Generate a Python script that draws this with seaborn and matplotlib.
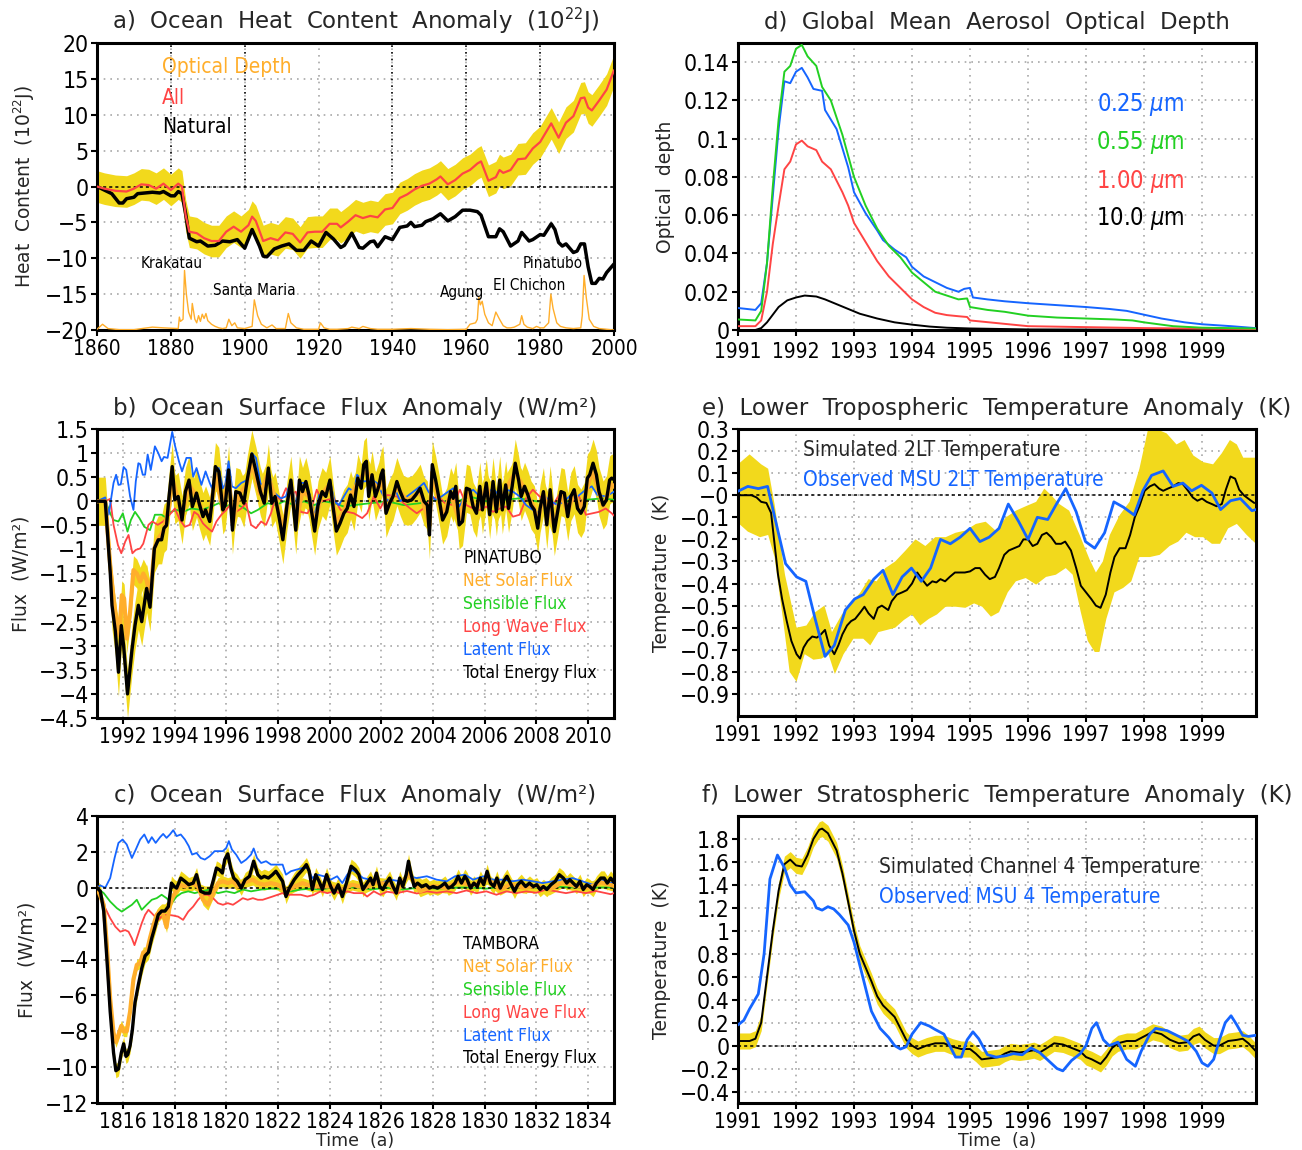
import os
import numpy as np
import seaborn as sns
import matplotlib.pyplot as plt
from matplotlib import font_manager
from matplotlib.ticker import FuncFormatter

# ==========================================
# DATOS
# ==========================================

# --- a) Ocean heat content anomaly (1e22 J) ---
a_all_x = [1860, 1862, 1865, 1868, 1870, 1872, 1874, 1876, 1878, 1880, 1882, 1883, 1884, 1885,
           1887, 1889, 1891, 1893, 1895, 1897, 1899, 1901, 1902, 1903, 1905, 1907, 1909, 1911,
           1913, 1915, 1917, 1919, 1921, 1923, 1925, 1926, 1928, 1930, 1932, 1934, 1936, 1938,
           1940, 1942, 1944, 1946, 1948, 1950, 1952, 1953, 1955, 1957, 1959, 1961, 1963, 1964,
           1966, 1968, 1969, 1970, 1972, 1974, 1976, 1978, 1980, 1983, 1985, 1987, 1989, 1991,
           1992, 1993, 1994, 1996, 1998, 2000]
a_all_y = [0, -0.3, -0.6, -0.7, -0.3, 0.3, 0.2, -0.3, 0.4, -0.5, 0.4, 0.0, -4.0, -6.3,
           -6.5, -7.2, -7.6, -7.6, -6.3, -5.6, -6.3, -5.4, -4.2, -4.8, -7.6, -7.2, -7.5, -6.4,
           -6.6, -7.8, -6.4, -6.3, -6.3, -5.2, -5.2, -5.7, -4.9, -4.0, -4.4, -4.1, -4.3, -3.2,
           -3.0, -1.6, -1.1, -0.4, 0.1, 0.4, 1.0, 1.4, 0.3, 0.9, 1.8, 2.3, 3.2, 3.5,
           0.8, 1.3, 2.3, 1.9, 2.3, 3.8, 3.9, 5.3, 6.2, 8.8, 6.8, 8.9, 9.8, 12.3,
           12.4, 11.0, 10.6, 12.0, 13.5, 16.2]
a_all_spread = 2.2

a_nat_x = [1860, 1862, 1864, 1866, 1867, 1868, 1870, 1871, 1873, 1875, 1877, 1878, 1880, 1881,
           1882, 1883, 1884, 1885, 1887, 1888, 1890, 1892, 1894, 1896, 1898, 1900, 1902, 1904,
           1905, 1906, 1908, 1910, 1912, 1914, 1916, 1918, 1920, 1922, 1924, 1926, 1927, 1929,
           1931, 1932, 1934, 1935, 1936, 1938, 1940, 1942, 1944, 1945, 1946, 1948, 1949, 1951,
           1953, 1955, 1957, 1959, 1961, 1963, 1964, 1966, 1968, 1969, 1970, 1972, 1974, 1975,
           1977, 1978, 1980, 1981, 1983, 1984, 1985, 1986, 1987, 1989, 1990, 1991, 1992, 1993,
           1994, 1995, 1996, 1997, 1998, 2000]
a_nat_y = [0, -0.5, -1.0, -2.3, -2.3, -1.7, -1.5, -1.0, -0.9, -0.8, -0.9, -0.7, -1.3, -1.3,
           -0.7, -1.0, -3.8, -7.2, -7.7, -7.6, -8.3, -8.2, -7.6, -7.7, -7.4, -8.6, -6.0, -8.3,
           -9.7, -9.8, -8.7, -8.3, -8.0, -8.9, -8.9, -7.6, -8.3, -6.4, -7.3, -8.5, -8.2, -6.5,
           -8.5, -8.6, -7.7, -7.6, -8.4, -7.0, -7.4, -5.7, -5.5, -5.0, -5.6, -5.4, -4.9, -4.5,
           -3.8, -4.8, -4.2, -3.3, -3.3, -3.5, -4.0, -7.0, -7.0, -5.9, -6.3, -8.3, -7.6, -6.4,
           -7.6, -7.4, -6.7, -6.8, -5.2, -6.0, -7.8, -8.3, -8.0, -9.2, -9.0, -8.0, -8.0, -11.2,
           -13.5, -13.5, -12.8, -12.9, -12.0, -10.8]

# optical depth drawn on the heat-content axis, height above the -20 baseline
a_aod_x = [1860, 1861.5, 1863, 1866, 1870, 1875, 1878, 1882, 1882.3, 1882.6, 1883.3, 1883.7,
           1884.2, 1884.8, 1885.5, 1885.8, 1886.5, 1887, 1887.5, 1888, 1888.5, 1889, 1889.5,
           1890, 1891, 1892, 1893, 1894, 1895, 1895.7, 1896.5, 1897.3, 1898, 1900, 1902,
           1902.6, 1903.5, 1904.5, 1906, 1907.4, 1908.5, 1911, 1911.8, 1912.5, 1914, 1916,
           1918, 1920, 1920.5, 1921.5, 1923, 1925, 1928, 1929, 1931, 1932, 1934, 1936, 1940,
           1945, 1950, 1955, 1960, 1961, 1962.5, 1963, 1963.4, 1963.8, 1964.3, 1965, 1966,
           1967, 1968, 1969, 1970, 1971, 1972, 1973, 1974.5, 1975, 1975.6, 1976.5, 1978, 1979,
           1980, 1981, 1982.3, 1982.9, 1983.5, 1984.5, 1985.5, 1987, 1989, 1991, 1991.4,
           1991.9, 1992.5, 1993.3, 1994.5, 1996, 1998, 2000]
a_aod_h = [0.1, 0.8, 0.2, 0.05, 0.05, 0.4, 0.3, 0.2, 1.8, 1.2, 1.5, 8.3,
           5.0, 2.5, 1.5, 3.7, 1.5, 1.0, 2.0, 1.2, 2.2, 1.6, 2.3,
           1.3, 0.8, 0.5, 0.3, 0.2, 0.3, 1.5, 0.6, 1.0, 0.3, 0.2, 0.5,
           4.2, 2.0, 0.8, 0.3, 0.7, 0.2, 0.2, 2.3, 1.0, 0.3, 0.1,
           0.1, 0.1, 1.0, 0.3, 0.1, 0.1, 0.2, 0.4, 0.2, 0.5, 0.2, 0.1, 0.1,
           0.2, 0.1, 0.05, 0.1, 0.8, 1.0, 1.5, 4.6, 3.5, 4.0, 2.2, 1.0,
           0.6, 2.5, 1.5, 0.6, 0.3, 0.3, 0.4, 0.8, 2.0, 0.8, 0.4, 0.2, 0.5,
           0.3, 0.3, 1.0, 5.0, 3.0, 1.0, 0.5, 0.3, 0.2, 0.3, 2.0,
           7.6, 4.5, 1.5, 0.5, 0.2, 0.1, 0.0]

a_volc_names = ['Krakatau', 'Santa Maria', 'Agung', 'El Chichon', 'Pinatubo']
a_volc_x = [1880.3, 1902.5, 1958.8, 1977.0, 1983.5]
a_volc_y = [-10.7, -14.5, -14.8, -13.8, -10.7]

# --- d) Global mean aerosol optical depth ---
d_025_x = [1991.0, 1991.3, 1991.4, 1991.5, 1991.6, 1991.7, 1991.8, 1991.9, 1992.0, 1992.1,
           1992.2, 1992.3, 1992.45, 1992.5, 1992.7, 1992.9, 1993.0, 1993.2, 1993.4, 1993.5,
           1993.7, 1993.9, 1994.0, 1994.2, 1994.4, 1994.6, 1994.8, 1994.9, 1995.0, 1995.05,
           1995.3, 1995.6, 1996.0, 1996.5, 1997.0, 1997.4, 1997.7, 1998.0, 1998.3, 1998.7,
           1999.0, 1999.5, 1999.92]
d_025_y = [0.0115, 0.0105, 0.014, 0.035, 0.07, 0.105, 0.13, 0.129, 0.135, 0.137,
           0.132, 0.126, 0.125, 0.115, 0.105, 0.085, 0.072, 0.061, 0.052, 0.047,
           0.042, 0.038, 0.033, 0.028, 0.025, 0.022, 0.020, 0.0215, 0.022, 0.017,
           0.016, 0.015, 0.014, 0.013, 0.012, 0.011, 0.010, 0.008, 0.006, 0.004,
           0.003, 0.002, 0.001]
d_055_x = [1991.0, 1991.3, 1991.4, 1991.5, 1991.6, 1991.7, 1991.8, 1991.9, 1992.0, 1992.1,
           1992.2, 1992.35, 1992.45, 1992.6, 1992.8, 1993.0, 1993.2, 1993.4, 1993.6, 1993.8,
           1994.0, 1994.2, 1994.4, 1994.6, 1994.8, 1994.95, 1995.0, 1995.3, 1995.6, 1996.0,
           1996.5, 1997.0, 1997.5, 1997.8, 1998.0, 1998.5, 1999.0, 1999.92]
d_055_y = [0.0055, 0.005, 0.01, 0.035, 0.075, 0.11, 0.135, 0.138, 0.147, 0.149,
           0.143, 0.138, 0.127, 0.12, 0.102, 0.08, 0.065, 0.053, 0.044, 0.038,
           0.03, 0.025, 0.02, 0.018, 0.016, 0.0165, 0.012, 0.0105, 0.0095, 0.0075,
           0.0065, 0.006, 0.0055, 0.005, 0.004, 0.002, 0.0012, 0.0008]
d_100_x = [1991.0, 1991.3, 1991.4, 1991.5, 1991.6, 1991.7, 1991.8, 1991.9, 1992.0, 1992.1,
           1992.2, 1992.35, 1992.45, 1992.6, 1992.8, 1992.9, 1993.0, 1993.2, 1993.4, 1993.6,
           1993.8, 1994.0, 1994.2, 1994.4, 1994.6, 1994.8, 1994.95, 1995.0, 1995.5, 1996.0,
           1997.0, 1998.0, 1999.92]
d_100_y = [0.002, 0.002, 0.005, 0.02, 0.045, 0.065, 0.084, 0.088, 0.097, 0.099,
           0.096, 0.094, 0.088, 0.084, 0.072, 0.065, 0.056, 0.046, 0.036, 0.028,
           0.022, 0.016, 0.012, 0.009, 0.0078, 0.0072, 0.0068, 0.005, 0.0035, 0.002,
           0.0015, 0.001, 0.0005]
d_10_x = [1991.0, 1991.3, 1991.4, 1991.5, 1991.6, 1991.7, 1991.85, 1992.0, 1992.15, 1992.35,
          1992.5, 1992.7, 1992.9, 1993.1, 1993.4, 1993.7, 1994.0, 1994.3, 1994.6, 1995.0,
          1996.0, 1999.92]
d_10_y = [0.0, 0.0, 0.001, 0.004, 0.008, 0.012, 0.0155, 0.017, 0.018, 0.0175,
          0.016, 0.0135, 0.011, 0.0085, 0.006, 0.004, 0.0028, 0.0018, 0.0012, 0.0008,
          0.0003, 0.0]
d_labels = ['0.25 $\\mu$m', '0.55 $\\mu$m', '1.00 $\\mu$m', '10.0 $\\mu$m']

# --- b) Ocean surface flux anomaly, Pinatubo (W/m2) ---
b_tot_x = [1991.0, 1991.32, 1991.51, 1991.58, 1991.71, 1991.83, 1991.94, 1992.03, 1992.18, 1992.35,
           1992.47, 1992.60, 1992.73, 1992.92, 1993.05, 1993.22, 1993.37, 1993.50, 1993.59, 1993.69,
           1993.78, 1993.91, 1994.01, 1994.14, 1994.29, 1994.42, 1994.56, 1994.69, 1994.85, 1994.97,
           1995.10, 1995.20, 1995.36, 1995.45, 1995.58, 1995.71, 1995.87, 1995.96, 1996.09, 1996.24,
           1996.37, 1996.53, 1996.68, 1996.81, 1996.99, 1997.15, 1997.32, 1997.47, 1997.63, 1997.76,
           1997.89, 1998.05, 1998.19, 1998.35, 1998.50, 1998.69, 1998.83, 1998.95, 1999.08, 1999.20,
           1999.42, 1999.55, 1999.71, 1999.85, 2000.01, 2000.14, 2000.26, 2000.40, 2000.55, 2000.68,
           2000.81, 2000.94, 2001.09, 2001.22, 2001.32, 2001.42, 2001.51, 2001.64, 2001.77, 2001.90,
           2001.99, 2002.06, 2002.18, 2002.32, 2002.45, 2002.60, 2002.73, 2002.86, 2003.01, 2003.18,
           2003.33, 2003.50, 2003.65, 2003.78, 2003.86, 2003.97, 2004.10, 2004.24, 2004.37, 2004.53,
           2004.68, 2004.78, 2004.88, 2005.01, 2005.14, 2005.29, 2005.42, 2005.55, 2005.68, 2005.81,
           2005.91, 2006.06, 2006.19, 2006.32, 2006.45, 2006.58, 2006.68, 2006.81, 2006.92, 2007.06,
           2007.18, 2007.31, 2007.41, 2007.54, 2007.67, 2007.79, 2007.92, 2008.05, 2008.14, 2008.27,
           2008.40, 2008.53, 2008.69, 2008.82, 2008.95, 2009.08, 2009.21, 2009.33, 2009.46, 2009.59,
           2009.72, 2009.85, 2009.97, 2010.06, 2010.19, 2010.32, 2010.42, 2010.58, 2010.71, 2010.83,
           2010.91, 2011.0]
b_tot_y = [0, 0, -1.46, -2.16, -2.7, -3.55, -2.58, -3.0, -4.0, -3.1,
           -2.58, -2.16, -2.5, -1.81, -2.2, -0.98, -0.8, -0.8, -0.56, -0.5,
           0.06, 0.72, 0.03, 0.1, -0.39, 0.2, 0.44, -0.11, 0.17, -0.08,
           -0.32, -0.18, -0.42, 0, 0.72, 0.62, -0.18, -0.08, 0.65, -0.6,
           0.2, 0.17, -0.04, 0.44, 0.98, 0.62, 0.2, -0.04, 0.69, -0.04,
           0.1, -0.35, -0.8, -0.08, 0.44, -0.6, 0.44, 0.2, 0.41, 0.13,
           -0.62, -0.08, 0.2, 0.1, 0.44, -0.15, -0.62, -0.46, -0.25, -0.15,
           0.13, -0.11, 0.48, 0.27, 0.76, 0.83, 0.1, 0.55, 0.1, 0.31,
           0.55, 0.65, -0.25, -0.04, 0.1, 0.41, 0.2, 0.03, 0, 0.03,
           0.13, 0.27, 0, -0.08, -0.7, 0.76, 0.44, 0.03, -0.39, -0.22,
           0.2, 0.06, 0.31, -0.49, -0.42, 0.27, 0.24, -0.11, -0.25, 0.31,
           -0.18, 0.38, -0.28, 0.41, -0.22, 0.44, -0.18, 0.34, -0.15, 0.31,
           0.79, 0.44, 0.1, 0.31, 0.13, -0.08, -0.18, -0.56, -0.15, 0.2,
           -0.49, 0.24, -0.63, -0.22, 0.2, 0.17, -0.32, 0.1, 0.24, -0.15,
           -0.25, -0.11, 0.48, 0.55, 0.79, 0.55, 0.2, -0.08, 0.03, 0.44,
           0.48, 0.45]
b_sol_x = [1991.0, 1991.32, 1991.51, 1991.64, 1991.77, 1991.86, 1991.96, 1992.05, 1992.15, 1992.28,
           1992.41, 1992.54, 1992.67, 1992.79, 1992.92, 1993.05, 1993.22, 1993.37, 1993.56, 1993.78,
           1993.91, 1994.1, 1994.3, 1994.55, 1994.85, 1995.1, 1995.35, 1995.6, 1995.85, 1996.1,
           1996.25, 1996.5, 1996.8, 1997.0, 1997.3, 1997.6, 1997.9, 1998.2, 1998.5, 1998.7,
           1998.95, 1999.2, 1999.42, 1999.7, 2000.0, 2000.26, 2000.55, 2000.8, 2001.1, 2001.42,
           2001.64, 2001.9, 2002.06, 2002.18, 2002.6, 2003.0, 2003.5, 2003.86, 2003.97, 2004.37,
           2004.68, 2005.01, 2005.29, 2005.68, 2006.06, 2006.45, 2006.81, 2007.18, 2007.54, 2007.92,
           2008.05, 2008.27, 2008.69, 2008.95, 2009.21, 2009.46, 2009.72, 2010.06, 2010.19, 2010.58,
           2010.91, 2011.0]
b_sol_y = [0, 0, -1.33, -2.02, -2.58, -2.78, -1.95, -2.02, -2.85, -2.3,
           -1.43, -1.5, -1.67, -1.5, -1.64, -2.02, -0.98, -0.77, -0.63, -0.15,
           0.48, 0.1, -0.3, 0.35, 0.1, -0.25, -0.3, 0.55, -0.1, 0.5,
           -0.45, 0.15, 0.35, 0.8, 0.15, 0.55, 0.05, -0.6, 0.35, -0.45,
           0.2, 0.1, -0.45, 0.15, 0.35, -0.45, -0.2, 0.1, 0.4, 0.65,
           0.4, 0.25, 0.5, -0.2, 0.3, 0.0, 0.2, -0.5, 0.6, -0.3,
           0.15, -0.4, 0.2, -0.2, 0.3, -0.15, 0.25, 0.6, 0.25, -0.15,
           -0.45, 0.15, -0.5, 0.15, -0.25, 0.2, -0.2, 0.45, 0.6, -0.1,
           0.35, 0.3]
b_lat_x = [1991.0, 1991.32, 1991.45, 1991.64, 1991.74, 1991.83, 1991.92, 1992.03, 1992.13, 1992.28,
           1992.41, 1992.50, 1992.60, 1992.67, 1992.77, 1992.86, 1992.96, 1993.08, 1993.24, 1993.37,
           1993.50, 1993.59, 1993.73, 1993.91, 1994.01, 1994.17, 1994.29, 1994.46, 1994.63, 1994.72,
           1994.85, 1995.04, 1995.20, 1995.36, 1995.45, 1995.59, 1995.71, 1995.87, 1995.96, 1996.09,
           1996.22, 1996.37, 1996.58, 1996.81, 1996.99, 1997.15, 1997.32, 1997.47, 1997.63, 1997.80,
           1997.96, 1998.12, 1998.31, 1998.50, 1998.69, 1998.88, 1999.08, 1999.27, 1999.42, 1999.59,
           1999.78, 2000.01, 2000.19, 2000.36, 2000.55, 2000.74, 2000.94, 2001.06, 2001.32, 2001.64,
           2001.83, 2002.06, 2002.28, 2002.54, 2002.73, 2002.99, 2003.24, 2003.50, 2003.65, 2003.82,
           2004.08, 2004.33, 2004.59, 2004.78, 2005.01, 2005.29, 2005.55, 2005.81, 2006.06, 2006.32,
           2006.58, 2006.83, 2007.09, 2007.35, 2007.60, 2007.86, 2008.05, 2008.31, 2008.56, 2008.82,
           2009.08, 2009.33, 2009.59, 2009.91, 2010.14, 2010.36, 2010.68, 2010.91, 2011.0]
b_lat_y = [0, 0.08, -0.28, 0.38, 0.55, 0.34, 0.35, 0.71, 0.65, 0.1,
           -0.18, 0.41, 0.79, 0.77, 0.55, 0.55, 0.97, 0.65, 1.14, 1.0,
           0.83, 0.92, 0.9, 1.44, 1.17, 0.83, 0.62, 0.9, 0.9, 0.51,
           0.69, 0.34, 0.62, 0.38, 0.27, 0.62, 0.69, 0.27, 0.34, 0.83,
           0.31, 0.27, 0.38, 0.44, 1.0, 0.9, 0.38, 0.24, 0.69, 0.2,
           0.13, 0.06, 0.1, 0.44, -0.08, 0.38, 0.38, 0.06, -0.32, 0.13,
           0.13, 0.44, 0, -0.08, 0.1, 0.27, 0.2, 0.55, 0.41, 0.44,
           0.38, 0.13, 0, 0.24, 0, 0.1, 0.2, 0.31, 0.38, 0.2,
           0.03, 0.1, 0.2, 0.27, -0.11, 0.13, 0.24, 0.1, 0.13, 0.27,
           0.1, 0.24, 0.2, 0.1, -0.08, -0.18, -0.25, 0.1, 0, -0.08,
           0, 0.13, 0.1, 0.24, 0.31, 0.13, 0.1, 0.17, 0.2]
b_sen_x = [1991.0, 1991.32, 1991.51, 1991.64, 1991.83, 1992.0, 1992.18, 1992.31, 1992.47, 1992.64,
           1992.83, 1993.05, 1993.24, 1993.50, 1993.69, 1993.86, 1994.08, 1994.33, 1994.65, 1995.04,
           1995.42, 1995.71, 1995.96, 1996.32, 1996.71, 1996.96, 1997.22, 1997.60, 1997.92, 1998.24,
           1998.63, 1999.01, 1999.40, 1999.78, 2000.17, 2000.55, 2000.94, 2001.58, 2002.22, 2002.86,
           2003.50, 2004.14, 2004.78, 2005.42, 2006.06, 2006.71, 2007.35, 2007.99, 2008.63, 2009.27,
           2009.91, 2010.55, 2011.0]
b_sen_y = [0, 0.02, -0.25, -0.39, -0.42, -0.25, -0.63, -0.39, -0.22, -0.35,
           -0.53, -0.6, -0.28, -0.28, -0.35, -0.22, -0.18, -0.22, -0.15, -0.18,
           -0.11, -0.04, -0.11, -0.04, -0.15, -0.25, -0.18, -0.04, -0.08, 0,
           -0.08, 0, -0.08, 0, -0.04, -0.11, -0.08, -0.04, 0, -0.08,
           -0.04, 0.03, -0.04, 0.1, 0, 0.03, 0.06, 0, -0.04, 0,
           0.03, 0.06, 0.03]
b_lw_x = [1991.0, 1991.32, 1991.51, 1991.64, 1991.81, 1991.94, 1992.09, 1992.22, 1992.37, 1992.50,
          1992.67, 1992.79, 1992.99, 1993.14, 1993.35, 1993.56, 1993.73, 1993.91, 1994.01, 1994.21,
          1994.40, 1994.59, 1994.76, 1994.91, 1995.10, 1995.29, 1995.45, 1995.62, 1995.81, 1996.0,
          1996.19, 1996.38, 1996.58, 1996.77, 1996.96, 1997.15, 1997.35, 1997.54, 1997.73, 1997.92,
          1998.12, 1998.31, 1998.50, 1998.69, 1998.88, 1999.14, 1999.33, 1999.50, 1999.72, 1999.91,
          2000.17, 2000.42, 2000.68, 2000.94, 2001.26, 2001.45, 2001.71, 2001.96, 2002.22, 2002.60,
          2002.86, 2003.12, 2003.37, 2003.63, 2003.88, 2004.21, 2004.46, 2004.78, 2005.04, 2005.29,
          2005.55, 2005.81, 2006.06, 2006.32, 2006.58, 2006.83, 2007.09, 2007.35, 2007.60, 2007.86,
          2008.12, 2008.37, 2008.63, 2008.88, 2009.14, 2009.40, 2009.65, 2009.91, 2010.17, 2010.42,
          2010.68, 2010.91, 2011.0]
b_lw_y = [0, 0, 0.05, -0.49, -0.91, -1.08, -0.84, -0.7, -1.08, -1.01,
          -0.98, -0.88, -0.49, -0.42, -0.49, -0.42, -0.32, -0.22, -0.15, -0.39,
          -0.53, -0.49, -0.22, -0.28, -0.46, -0.56, -0.63, -0.42, -0.28, -0.18,
          -0.04, -0.22, -0.15, -0.04, -0.49, -0.56, -0.42, -0.49, -0.25, 0.1,
          0.03, 0.27, 0.13, 0.2, -0.22, -0.25, -0.08, 0.24, 0, 0.03,
          0.06, -0.18, -0.22, -0.25, -0.35, -0.25, 0.1, -0.15, 0.13, 0.1,
          -0.04, -0.15, -0.25, -0.15, 0.03, 0.1, -0.04, -0.08, 0.24, -0.08,
          -0.15, -0.18, -0.11, -0.22, -0.15, -0.11, -0.32, -0.28, 0.06, 0.24,
          0.1, 0.03, -0.08, 0.13, -0.08, 0, 0.1, -0.28, -0.25, -0.22,
          -0.15, -0.25, -0.3]
b_spread = 0.5

# --- c) Ocean surface flux anomaly, Tambora (W/m2) ---
c_tot_x = [1815.0, 1815.13, 1815.26, 1815.38, 1815.51, 1815.64, 1815.73, 1815.83, 1815.94, 1816.03,
           1816.12, 1816.19, 1816.28, 1816.37, 1816.47, 1816.60, 1816.73, 1816.86, 1816.99, 1817.12,
           1817.24, 1817.37, 1817.50, 1817.63, 1817.76, 1817.88, 1817.99, 1818.08, 1818.24, 1818.40,
           1818.55, 1818.72, 1818.85, 1819.01, 1819.17, 1819.36, 1819.49, 1819.62, 1819.74, 1819.85,
           1819.94, 1820.06, 1820.17, 1820.29, 1820.42, 1820.58, 1820.73, 1820.90, 1821.06, 1821.22,
           1821.35, 1821.47, 1821.63, 1821.79, 1821.92, 1822.05, 1822.18, 1822.31, 1822.44, 1822.63,
           1822.78, 1822.95, 1823.10, 1823.21, 1823.33, 1823.46, 1823.59, 1823.72, 1823.88, 1824.04,
           1824.17, 1824.33, 1824.49, 1824.65, 1824.83, 1825.00, 1825.13, 1825.29, 1825.45, 1825.58,
           1825.68, 1825.81, 1825.94, 1826.06, 1826.19, 1826.32, 1826.45, 1826.58, 1826.71, 1826.83,
           1826.96, 1827.05, 1827.14, 1827.27, 1827.40, 1827.56, 1827.73, 1827.86, 1828.01, 1828.17,
           1828.29, 1828.46, 1828.59, 1828.72, 1828.85, 1828.97, 1829.10, 1829.23, 1829.32, 1829.45,
           1829.58, 1829.71, 1829.83, 1829.96, 1830.09, 1830.22, 1830.35, 1830.47, 1830.60, 1830.73,
           1830.86, 1830.99, 1831.15, 1831.28, 1831.41, 1831.58, 1831.73, 1831.88, 1832.01, 1832.14,
           1832.27, 1832.40, 1832.56, 1832.73, 1832.88, 1833.04, 1833.17, 1833.29, 1833.42, 1833.55,
           1833.68, 1833.81, 1833.94, 1834.06, 1834.19, 1834.32, 1834.49, 1834.62, 1834.74, 1834.87,
           1835.0]
c_tot_y = [0, -0.2, -1.3, -3.9, -6.9, -9.2, -10.2, -10.1, -9.2, -8.7,
           -9.4, -9.3, -8.8, -7.9, -6.4, -5.4, -4.5, -3.8, -3.6, -2.8,
           -2.2, -1.5, -1.3, -1.3, -1.05, 0.26, 0.07, -0.02, 0.54, 0.36,
           0.17, 0.26, 0.73, -0.2, -0.3, -0.3, 0.36, 1.1, 1.0, 0.82,
           1.57, 1.89, 1.1, 0.54, 0.36, -0.02, 0.45, 0.64, 1.48, 0.73,
           0.54, 0.64, 0.54, 0.73, 0.92, 0.64, 0.36, -0.49, -0.02, 0.45,
           0.73, 1.0, 1.29, 0.92, -0.1, 0.73, 0.36, -0.1, 0.73, 0.07,
           -0.3, 0.17, -0.49, 0.26, 1.2, 1.0, 0.73, -0.1, 0.26, 0.54,
           0.17, 0.82, 0.07, -0.1, 0.26, 0.54, 0.07, -0.3, 0.54, 0.07,
           0.73, 1.48, 0.82, 0.07, 0.26, 0.07, 0.17, -0.02, 0.07, -0.02,
           0.07, 0.26, -0.02, 0.07, 0.26, 0.64, 0.26, 0.64, 0.45, -0.02,
           0.26, 0.07, 0.54, 0.17, 0.92, 0.26, 0.07, 0.54, -0.02, 0.36,
           0.64, 0.26, -0.2, 0.17, 0.36, 0.07, 0.26, 0.07, 0.17, -0.1,
           0.07, -0.1, 0.17, 0.36, 0.73, 0.54, 0.26, 0.45, 0.26, 0.07,
           0.36, -0.1, 0.17, 0.07, -0.1, 0.26, 0.54, 0.54, 0.26, 0.54,
           0.3]
c_sol_x = [1815.0, 1815.26, 1815.38, 1815.51, 1815.64, 1815.73, 1815.83, 1815.94, 1816.03, 1816.15,
           1816.28, 1816.41, 1816.54, 1816.67, 1816.79, 1816.92, 1817.05, 1817.18, 1817.31, 1817.44,
           1817.56, 1817.69, 1817.82, 1817.91, 1818.01, 1818.21, 1818.40, 1818.65, 1818.91, 1819.10,
           1819.29, 1819.49, 1819.68, 1819.87, 1820.06, 1820.26, 1820.45, 1820.64, 1820.83, 1821.03,
           1821.22, 1821.47, 1821.73, 1821.99, 1822.31, 1822.63, 1822.95, 1823.33, 1823.72, 1824.10,
           1824.49, 1824.87, 1825.35, 1825.8, 1826.3, 1826.6, 1827.05, 1827.5, 1828.0, 1828.5,
           1829.0, 1829.5, 1830.1, 1830.6, 1831.0, 1831.5, 1832.0, 1832.5, 1833.0, 1833.5,
           1834.0, 1834.5, 1835.0]
c_sol_y = [0, -0.95, -3.2, -6.2, -8.1, -8.6, -8.2, -7.7, -8.0, -8.0,
           -6.9, -5.1, -4.3, -4.2, -3.6, -3.6, -2.8, -2.1, -1.5, -1.3,
           -1.5, -2.2, -0.95, -0.6, -0.3, 0.17, 0.07, 0.26, 0.07, -0.67,
           -0.95, -0.3, 0.26, 0.36, 0.26, 0.36, 0.07, 0.26, 0.36, 0.45,
           0.26, 0.17, 0.26, 0.17, -0.2, 0.07, 0.26, 0.07, 0.07, 0.07,
           -0.1, 0.17, 0.0, 0.3, 0.2, -0.2, 0.8, -0.2, 0.1, 0.0,
           0.35, 0.1, 0.5, -0.1, 0.2, 0.0, 0.1, -0.1, 0.3, 0.1,
           0.0, 0.3, 0.1]
c_lat_x = [1815.0, 1815.13, 1815.32, 1815.51, 1815.68, 1815.83, 1815.99, 1816.15, 1816.35, 1816.50,
           1816.67, 1816.83, 1816.99, 1817.12, 1817.27, 1817.44, 1817.56, 1817.69, 1817.82, 1817.95,
           1818.08, 1818.24, 1818.40, 1818.55, 1818.68, 1818.85, 1819.01, 1819.17, 1819.36, 1819.55,
           1819.74, 1819.87, 1820.00, 1820.10, 1820.22, 1820.38, 1820.58, 1820.77, 1820.96, 1821.06,
           1821.19, 1821.35, 1821.54, 1821.73, 1821.92, 1822.18, 1822.31, 1822.50, 1822.69, 1822.95,
           1823.14, 1823.33, 1823.53, 1823.78, 1824.04, 1824.29, 1824.49, 1824.68, 1824.87, 1825.06,
           1825.29, 1825.58, 1825.96, 1826.35, 1826.73, 1827.05, 1827.37, 1827.76, 1828.14, 1828.53,
           1828.85, 1829.23, 1829.55, 1829.94, 1830.32, 1830.71, 1831.09, 1831.47, 1831.86, 1832.24,
           1832.63, 1833.01, 1833.40, 1833.78, 1834.17, 1834.55, 1834.87, 1835.0]
c_lat_y = [0, 0.13, 0, 0.54, 1.66, 2.5, 2.69, 2.41, 1.66, 2.13,
           2.69, 2.97, 2.5, 2.82, 2.5, 2.82, 3.0, 2.78, 2.97, 3.21,
           2.88, 2.97, 2.69, 2.32, 1.85, 1.94, 1.66, 1.57, 1.76, 2.04,
           2.04, 2.04, 2.22, 2.6, 2.13, 1.85, 1.38, 1.57, 1.85, 2.19,
           1.66, 1.38, 1.48, 1.29, 1.29, 1.29, 0.73, 0.92, 1.0, 1.1,
           1.1, 0.54, 0.73, 0.64, 0.45, 0.64, 0.26, 0.73, 1.0, 0.82,
           0.54, 0.45, 0.26, 0.45, 0.36, 0.64, 0.54, 0.64, 0.45, 0.36,
           0.64, 0.73, 0.45, 0.64, 0.45, 0.45, 0.36, 0.45, 0.36, 0.26,
           0.36, 0.45, 0.54, 0.36, 0.17, 0.45, 0.26, 0.3]
c_sen_x = [1815.0, 1815.26, 1815.51, 1815.77, 1815.96, 1816.15, 1816.35, 1816.54, 1816.73, 1816.92,
           1817.12, 1817.31, 1817.50, 1817.69, 1817.88, 1818.08, 1818.27, 1818.53, 1818.78, 1819.04,
           1819.36, 1819.68, 1820.0, 1820.32, 1820.64, 1820.96, 1821.35, 1821.73, 1822.12, 1822.50,
           1822.88, 1823.27, 1823.65, 1824.04, 1824.42, 1824.81, 1825.29, 1825.58, 1826.22, 1826.86,
           1827.50, 1828.14, 1828.78, 1829.42, 1830.06, 1830.71, 1831.35, 1831.99, 1832.63, 1833.27,
           1833.91, 1834.87, 1835.0]
c_sen_y = [0, -0.3, -0.77, -1.14, -1.33, -1.14, -0.95, -0.67, -1.23, -0.95,
           -0.67, -0.58, -0.39, -0.58, -0.86, -0.49, -0.3, -0.2, -0.3, -0.2,
           -0.1, -0.3, -0.2, -0.3, -0.1, -0.2, -0.1, -0.05, -0.05, -0.2,
           -0.1, -0.05, -0.1, 0, -0.05, 0.02, 0, -0.1, 0, -0.1,
           0.02, -0.05, 0, 0.02, -0.05, 0.07, 0.02, 0, 0.07, 0.02,
           0, 0.02, 0.0]
c_lw_x = [1815.0, 1815.13, 1815.32, 1815.51, 1815.71, 1815.90, 1816.09, 1816.22, 1816.35, 1816.45,
          1816.58, 1816.73, 1816.86, 1816.99, 1817.18, 1817.37, 1817.56, 1817.76, 1817.95, 1818.14,
          1818.33, 1818.53, 1818.72, 1818.91, 1819.10, 1819.29, 1819.49, 1819.68, 1819.87, 1820.06,
          1820.26, 1820.45, 1820.64, 1820.83, 1821.03, 1821.22, 1821.41, 1821.60, 1821.79, 1821.99,
          1822.18, 1822.37, 1822.63, 1822.88, 1823.14, 1823.40, 1823.65, 1823.91, 1824.17, 1824.42,
          1824.68, 1824.94, 1825.29, 1825.45, 1825.71, 1825.96, 1826.22, 1826.60, 1826.99, 1827.37,
          1827.76, 1828.14, 1828.53, 1828.91, 1829.29, 1829.68, 1830.06, 1830.45, 1830.83, 1831.22,
          1831.60, 1831.99, 1832.37, 1832.76, 1833.14, 1833.53, 1833.91, 1834.29, 1834.68, 1834.87,
          1835.0]
c_lw_y = [0, -0.4, -1.14, -1.7, -2.17, -2.45, -2.36, -2.45, -2.82, -3.2,
          -2.64, -1.98, -1.51, -1.23, -1.51, -1.79, -1.51, -1.51, -1.55, -1.61,
          -1.79, -1.33, -1.05, -0.67, -0.39, -0.39, -0.58, -0.86, -0.95, -0.86,
          -0.95, -0.77, -0.58, -0.67, -0.58, -0.67, -0.67, -0.58, -0.49, -0.39,
          -0.3, -0.39, -0.39, -0.39, -0.49, -0.39, -0.2, -0.3, -0.2, -0.3,
          -0.2, -0.3, -0.3, -0.49, -0.2, -0.39, -0.22, -0.3, -0.18, -0.32,
          -0.2, -0.28, -0.2, -0.3, -0.15, -0.3, -0.2, -0.39, -0.2, -0.3,
          -0.2, -0.28, -0.1, -0.2, -0.3, -0.2, -0.3, -0.18, -0.3, -0.36,
          -0.3]
c_spread = 0.4

flux_labels = ['Net Solar Flux', 'Sensible Flux', 'Long Wave Flux', 'Latent Flux', 'Total Energy Flux']

# --- e) Lower tropospheric temperature anomaly (K) ---
e_sim_x = [1991.00, 1991.23, 1991.32, 1991.40, 1991.49, 1991.57, 1991.63, 1991.69, 1991.76, 1991.84,
           1991.92, 1992.01, 1992.07, 1992.13, 1992.20, 1992.28, 1992.36, 1992.43, 1992.50, 1992.57,
           1992.66, 1992.73, 1992.80, 1992.88, 1992.95, 1993.02, 1993.11, 1993.18, 1993.25, 1993.34,
           1993.41, 1993.48, 1993.59, 1993.65, 1993.74, 1993.83, 1993.91, 1994.00, 1994.09, 1994.17,
           1994.26, 1994.35, 1994.42, 1994.49, 1994.57, 1994.65, 1994.74, 1994.82, 1994.91, 1995.00,
           1995.09, 1995.17, 1995.26, 1995.34, 1995.43, 1995.50, 1995.59, 1995.67, 1995.76, 1995.85,
           1995.92, 1996.00, 1996.08, 1996.16, 1996.24, 1996.32, 1996.40, 1996.48, 1996.57, 1996.64,
           1996.74, 1996.83, 1996.91, 1997.00, 1997.09, 1997.17, 1997.25, 1997.34, 1997.42, 1997.49,
           1997.58, 1997.68, 1997.76, 1997.84, 1997.92, 1998.01, 1998.10, 1998.18, 1998.26, 1998.33,
           1998.41, 1998.50, 1998.59, 1998.67, 1998.76, 1998.84, 1998.92, 1999.00, 1999.08, 1999.17,
           1999.25, 1999.34, 1999.41, 1999.49, 1999.57, 1999.64, 1999.72, 1999.82, 1999.90]
e_sim_y = [0, 0, -0.01, -0.03, -0.035, -0.08, -0.22, -0.36, -0.47, -0.57,
           -0.66, -0.72, -0.74, -0.69, -0.66, -0.64, -0.645, -0.63, -0.61, -0.68,
           -0.72, -0.68, -0.63, -0.59, -0.57, -0.56, -0.53, -0.505, -0.535, -0.56,
           -0.51, -0.5, -0.52, -0.48, -0.45, -0.44, -0.43, -0.40, -0.35, -0.38,
           -0.41, -0.39, -0.395, -0.38, -0.39, -0.37, -0.35, -0.35, -0.35, -0.345,
           -0.33, -0.33, -0.36, -0.38, -0.37, -0.33, -0.27, -0.25, -0.24, -0.23,
           -0.2, -0.2, -0.23, -0.22, -0.18, -0.17, -0.19, -0.22, -0.22, -0.21,
           -0.25, -0.33, -0.41, -0.44, -0.47, -0.5, -0.51, -0.45, -0.35, -0.28,
           -0.24, -0.24, -0.18, -0.1, -0.05, 0.02, 0.04, 0.05, 0.03, 0.02,
           0.03, 0.04, 0.055, 0.05, 0.02, -0.01, -0.025, -0.015, -0.03, -0.04,
           -0.05, -0.04, 0.025, 0.085, 0.075, 0.025, 0, -0.02, -0.035]
e_obs_x = [1991.0, 1991.17, 1991.35, 1991.51, 1991.66, 1991.82, 1992.01, 1992.17, 1992.33, 1992.50,
           1992.66, 1992.85, 1993.01, 1993.16, 1993.34, 1993.50, 1993.67, 1993.83, 1993.99, 1994.16,
           1994.32, 1994.49, 1994.66, 1994.83, 1995.00, 1995.17, 1995.33, 1995.50, 1995.66, 1995.84,
           1996.00, 1996.16, 1996.34, 1996.49, 1996.65, 1996.83, 1996.99, 1997.15, 1997.32, 1997.48,
           1997.65, 1997.83, 1997.98, 1998.13, 1998.33, 1998.50, 1998.67, 1998.82, 1998.99, 1999.17,
           1999.32, 1999.49, 1999.66, 1999.77, 1999.86, 1999.93]
e_obs_y = [0.018, 0.04, 0.03, 0.04, -0.13, -0.31, -0.37, -0.39, -0.56, -0.73,
           -0.68, -0.52, -0.47, -0.45, -0.38, -0.34, -0.45, -0.37, -0.33, -0.39,
           -0.33, -0.2, -0.22, -0.19, -0.15, -0.21, -0.19, -0.15, -0.04, -0.12,
           -0.2, -0.1, -0.11, -0.04, 0.03, -0.075, -0.21, -0.24, -0.17, -0.03,
           -0.055, -0.09, 0.02, 0.09, 0.11, 0.04, 0.055, 0.02, 0.045, 0.01,
           -0.065, -0.025, -0.015, -0.045, -0.07, -0.065]
e_hi_x = [1991.0, 1991.2, 1991.4, 1991.52, 1991.63, 1991.81, 1992.01, 1992.18, 1992.33, 1992.49,
          1992.62, 1992.79, 1992.93, 1993.11, 1993.25, 1993.39, 1993.54, 1993.71, 1993.89, 1994.06,
          1994.23, 1994.40, 1994.58, 1994.75, 1994.92, 1995.10, 1995.27, 1995.44, 1995.62, 1995.79,
          1995.96, 1996.14, 1996.28, 1996.40, 1996.54, 1996.71, 1996.89, 1997.06, 1997.17, 1997.29,
          1997.41, 1997.58, 1997.75, 1997.92, 1998.07, 1998.21, 1998.39, 1998.56, 1998.70, 1998.85,
          1999.02, 1999.19, 1999.34, 1999.48, 1999.60, 1999.71, 1999.93]
e_hi_y = [0.14, 0.185, 0.14, 0.12, -0.04, -0.36, -0.6, -0.59, -0.53, -0.5,
          -0.62, -0.54, -0.5, -0.44, -0.38, -0.39, -0.33, -0.3, -0.25, -0.2,
          -0.23, -0.19, -0.19, -0.17, -0.16, -0.13, -0.12, -0.16, -0.1, -0.07,
          -0.05, -0.03, 0.03, 0, -0.04, -0.07, -0.18, -0.29, -0.35, -0.3,
          -0.18, -0.09, -0.03, 0.12, 0.3, 0.3, 0.28, 0.23, 0.25, 0.18,
          0.15, 0.14, 0.19, 0.25, 0.23, 0.17, 0.17]
e_lo_x = [1991.0, 1991.17, 1991.38, 1991.52, 1991.63, 1991.78, 1991.89, 1992.01, 1992.15, 1992.30,
          1992.44, 1992.56, 1992.67, 1992.82, 1992.99, 1993.16, 1993.28, 1993.42, 1993.57, 1993.71,
          1993.86, 1994.00, 1994.14, 1994.29, 1994.43, 1994.58, 1994.75, 1994.92, 1995.07, 1995.21,
          1995.36, 1995.50, 1995.65, 1995.79, 1995.96, 1996.14, 1996.31, 1996.48, 1996.65, 1996.77,
          1996.91, 1997.03, 1997.15, 1997.23, 1997.35, 1997.49, 1997.64, 1997.78, 1997.92, 1998.10,
          1998.27, 1998.44, 1998.59, 1998.73, 1998.88, 1999.02, 1999.17, 1999.31, 1999.45, 1999.60,
          1999.77, 1999.93]
e_lo_y = [-0.125, -0.165, -0.19, -0.18, -0.28, -0.57, -0.8, -0.845, -0.72, -0.745,
          -0.74, -0.72, -0.81, -0.72, -0.65, -0.65, -0.68, -0.62, -0.61, -0.6,
          -0.565, -0.54, -0.59, -0.56, -0.54, -0.505, -0.505, -0.51, -0.49, -0.505,
          -0.55, -0.53, -0.44, -0.39, -0.375, -0.405, -0.37, -0.36, -0.33, -0.36,
          -0.53, -0.66, -0.71, -0.71, -0.56, -0.44, -0.42, -0.39, -0.28, -0.28,
          -0.27, -0.23, -0.21, -0.17, -0.19, -0.19, -0.22, -0.22, -0.15, -0.13,
          -0.18, -0.22]

# --- f) Lower stratospheric temperature anomaly (K) ---
f_sim_x = [1991.0, 1991.2, 1991.3, 1991.4, 1991.5, 1991.6, 1991.7, 1991.8, 1991.9, 1992.0,
           1992.1, 1992.2, 1992.3, 1992.4, 1992.45, 1992.55, 1992.7, 1992.8, 1992.9, 1993.0,
           1993.1, 1993.2, 1993.3, 1993.4, 1993.5, 1993.6, 1993.7, 1993.8, 1993.9, 1994.0,
           1994.1, 1994.25, 1994.4, 1994.55, 1994.7, 1994.85, 1995.0, 1995.1, 1995.2, 1995.35,
           1995.5, 1995.6, 1995.7, 1995.85, 1996.0, 1996.1, 1996.2, 1996.3, 1996.45, 1996.6,
           1996.75, 1996.9, 1997.0, 1997.1, 1997.25, 1997.35, 1997.45, 1997.55, 1997.7, 1997.85,
           1998.0, 1998.15, 1998.3, 1998.45, 1998.6, 1998.75, 1998.85, 1998.95, 1999.05, 1999.2,
           1999.3, 1999.45, 1999.6, 1999.7, 1999.8, 1999.93]
f_sim_y = [0.04, 0.04, 0.06, 0.2, 0.6, 1.0, 1.35, 1.58, 1.62, 1.57,
           1.56, 1.66, 1.8, 1.88, 1.89, 1.85, 1.7, 1.5, 1.25, 1.0,
           0.8, 0.68, 0.56, 0.43, 0.35, 0.3, 0.25, 0.15, 0.05, 0.0,
           -0.03, 0.0, 0.02, 0.02, -0.01, -0.03, -0.03, -0.07, -0.12, -0.11,
           -0.1, -0.07, -0.05, -0.06, -0.05, -0.04, -0.06, -0.03, 0.02, 0.01,
           -0.02, -0.05, -0.1, -0.12, -0.16, -0.1, -0.02, 0.02, 0.04, 0.04,
           0.08, 0.12, 0.1, 0.05, 0.02, 0.03, 0.08, 0.1, 0.05, 0.0,
           0.0, 0.04, 0.05, 0.06, 0.02, -0.05]
f_obs_x = [1991.0, 1991.1, 1991.2, 1991.35, 1991.45, 1991.55, 1991.68, 1991.8, 1991.9, 1992.0,
           1992.15, 1992.3, 1992.35, 1992.45, 1992.55, 1992.65, 1992.75, 1992.9, 1993.0, 1993.15,
           1993.3, 1993.45, 1993.6, 1993.7, 1993.8, 1993.9, 1994.0, 1994.15, 1994.3, 1994.4,
           1994.55, 1994.65, 1994.75, 1994.85, 1994.95, 1995.05, 1995.15, 1995.3, 1995.45, 1995.6,
           1995.75, 1995.9, 1996.05, 1996.2, 1996.35, 1996.5, 1996.6, 1996.75, 1996.9, 1997.0,
           1997.1, 1997.18, 1997.3, 1997.4, 1997.55, 1997.7, 1997.85, 1997.95, 1998.1, 1998.2,
           1998.4, 1998.6, 1998.75, 1998.9, 1999.0, 1999.1, 1999.2, 1999.3, 1999.4, 1999.5,
           1999.6, 1999.7, 1999.8, 1999.93]
f_obs_y = [0.18, 0.22, 0.32, 0.45, 0.8, 1.45, 1.66, 1.55, 1.4, 1.33,
           1.34, 1.26, 1.2, 1.18, 1.21, 1.19, 1.14, 1.05, 0.9, 0.6,
           0.3, 0.15, 0.07, 0.0, -0.03, -0.01, 0.1, 0.2, 0.17, 0.14,
           0.1, 0.0, -0.1, -0.1, 0.05, 0.12, 0.06, -0.08, -0.1, -0.09,
           -0.07, -0.08, -0.02, -0.06, -0.13, -0.2, -0.22, -0.13, -0.07, 0.0,
           0.15, 0.2, 0.05, 0.0, 0.03, -0.12, -0.18, -0.05, 0.1, 0.15,
           0.13, 0.08, 0.04, -0.05, -0.15, -0.18, -0.12, 0.05, 0.2, 0.26,
           0.18, 0.09, 0.08, 0.09]
f_spread = 0.07

# ==========================================
# ESTILO
# ==========================================

sns.set_theme(style='white')

# narrow font if available (GrADS-like condensed text)
_fonts = font_manager.fontManager.ttflist
HAS_NARROW = any(f.name == 'Liberation Sans Narrow' for f in _fonts)
HAS_COND = any('DejaVuSansCondensed' in os.path.basename(f.fname) for f in _fonts)
if HAS_NARROW:
    plt.rcParams['font.family'] = ['Liberation Sans Narrow', 'DejaVu Sans']
    K = 1.2
elif HAS_COND:
    plt.rcParams['font.family'] = ['DejaVu Sans']
    plt.rcParams['font.stretch'] = 'condensed'
    K = 1.0
else:
    plt.rcParams['font.family'] = ['DejaVu Sans']
    K = 0.88
plt.rcParams['mathtext.fontset'] = 'dejavusans'

YELLOW = '#f2d91c'
ORANGE = '#ffae2b'
RED = '#ff4444'
GREEN = '#22d022'
BLUE = '#1565ff'
GRIDC = '#a8a8a8'
DOT = (0, (1, 3))
WIDE = dict(family='DejaVu Sans', stretch='normal')


def fmt(v, pos):
    s = f'{round(v, 4):g}'
    return s.replace('-', '\u2212')


def style(ax, xlim, ylim, xticks, yticks, title, ylabel, xlabel=None, xpad=2.5):
    ax.set_xlim(*xlim)
    ax.set_ylim(*ylim)
    ax.set_xticks(xticks)
    ax.set_yticks(yticks)
    ax.xaxis.set_major_formatter(FuncFormatter(fmt))
    ax.yaxis.set_major_formatter(FuncFormatter(fmt))
    ax.grid(True, color=GRIDC, linestyle=DOT, linewidth=1.2)
    ax.tick_params(direction='out', length=4, width=1.5,
                   bottom=True, left=True, colors='black')
    ax.tick_params(axis='x', labelsize=15 * K, pad=xpad)
    ax.tick_params(axis='y', labelsize=16.5 * K, pad=2)
    for sp in ax.spines.values():
        sp.set_linewidth(2.2)
        sp.set_color('black')
    ax.set_title(title, fontsize=16.5, pad=10, **WIDE)
    ax.set_ylabel(ylabel, fontsize=13.5, labelpad=6, **WIDE)
    if xlabel:
        ax.set_xlabel(xlabel, fontsize=12.5, labelpad=0, **WIDE)
    ax.set_axisbelow(True)


def line(ax, x, y, color, lw, z=3):
    sns.lineplot(x=x, y=y, ax=ax, color=color, linewidth=lw, sort=False,
                 estimator=None, legend=False, zorder=z)


def band(ax, x, y, spread):
    y = np.asarray(y, dtype=float)
    ax.fill_between(x, y - spread, y + spread, color=YELLOW, lw=0, zorder=2)


def zero(ax):
    ax.axhline(0, color='black', linestyle=(0, (2, 2)), linewidth=1.1, zorder=4)


fig = plt.figure(figsize=(13.02, 11.5), dpi=100)
W = 517 / 1302
H = 287 / 1150
ax_a = fig.add_axes([97 / 1302, 1 - 330 / 1150, W, H])
ax_d = fig.add_axes([738 / 1302, 1 - 330 / 1150, 518 / 1302, H])
ax_b = fig.add_axes([97 / 1302, 1 - 718 / 1150, W, 289 / 1150])
ax_e = fig.add_axes([738 / 1302, 1 - 716 / 1150, 518 / 1302, H])
ax_c = fig.add_axes([97 / 1302, 1 - 1103 / 1150, W, H])
ax_f = fig.add_axes([738 / 1302, 1 - 1103 / 1150, 518 / 1302, H])

# ---------- a ----------
ax = ax_a
style(ax, (1860, 2000), (-20, 20), range(1860, 2001, 20), range(-20, 21, 5),
      'a)  Ocean  Heat  Content  Anomaly  (10$^{22}$J)', 'Heat  Content  (10$^{22}$J)')
ax.vlines([1880, 1900, 1940, 1960, 1980], 0, 20, colors='black', linestyles=DOT, lw=1.2, zorder=1)
band(ax, a_all_x, a_all_y, a_all_spread)
zero(ax)
line(ax, a_aod_x, list(np.asarray(a_aod_h) - 20), ORANGE, 1.0)
line(ax, a_nat_x, a_nat_y, 'black', 2.5, z=5)
line(ax, a_all_x, a_all_y, RED, 1.6, z=6)
for nm, vx, vy in zip(a_volc_names, a_volc_x, a_volc_y):
    ax.text(vx, vy, nm, ha='center', va='center', fontsize=11 * K, color='black')
for txt, col, yy in zip(['Optical Depth', 'All', 'Natural'], [ORANGE, RED, 'black'], [0.916, 0.81, 0.707]):
    ax.text(0.126, yy, txt, transform=ax.transAxes, fontsize=15 * K, color=col, va='center')

# ---------- d ----------
ax = ax_d
style(ax, (1991, 1999.93), (0, 0.15), range(1991, 2000), np.arange(0, 0.141, 0.02),
      'd)  Global  Mean  Aerosol  Optical  Depth', 'Optical  depth', xpad=4.5)
for xs, ys, col in [(d_10_x, d_10_y, 'black'), (d_100_x, d_100_y, RED),
                    (d_025_x, d_025_y, BLUE), (d_055_x, d_055_y, GREEN)]:
    line(ax, xs, ys, col, 1.4)
for txt, col, yy in zip(d_labels, [BLUE, GREEN, RED, 'black'], [0.787, 0.655, 0.519, 0.39]):
    ax.text(0.862, yy, txt, transform=ax.transAxes, fontsize=17 * K, color=col, ha='right', va='center')

# ---------- b ----------
ax = ax_b
style(ax, (1991, 2011), (-4.5, 1.5), range(1992, 2011, 2), np.arange(-4.5, 1.51, 0.5),
      'b)  Ocean  Surface  Flux  Anomaly  (W/m\u00b2)', 'Flux  (W/m\u00b2)')
band(ax, b_tot_x, b_tot_y, b_spread)
band(ax, b_sol_x, b_sol_y, 0.3)
zero(ax)
line(ax, b_sen_x, b_sen_y, GREEN, 1.3)
line(ax, b_lw_x, b_lw_y, RED, 1.3)
line(ax, b_lat_x, b_lat_y, BLUE, 1.3)
line(ax, b_sol_x, b_sol_y, ORANGE, 3.0, z=5)
line(ax, b_tot_x, b_tot_y, 'black', 2.4, z=6)

# ---------- c ----------
ax = ax_c
style(ax, (1815, 1835), (-12, 4), range(1816, 1835, 2), range(-12, 5, 2),
      'c)  Ocean  Surface  Flux  Anomaly  (W/m\u00b2)', 'Flux  (W/m\u00b2)', 'Time  (a)')
band(ax, c_tot_x, c_tot_y, c_spread)
band(ax, c_sol_x, c_sol_y, 0.3)
zero(ax)
line(ax, c_sen_x, c_sen_y, GREEN, 1.3)
line(ax, c_lw_x, c_lw_y, RED, 1.3)
line(ax, c_lat_x, c_lat_y, BLUE, 1.3)
line(ax, c_sol_x, c_sol_y, ORANGE, 3.0, z=5)
line(ax, c_tot_x, c_tot_y, 'black', 2.4, z=6)

for ax, head in [(ax_b, 'PINATUBO'), (ax_c, 'TAMBORA')]:
    ys = [0.554, 0.474, 0.394, 0.315, 0.235, 0.157]
    for txt, col, yy in zip([head] + flux_labels, ['black', ORANGE, GREEN, RED, BLUE, 'black'], ys):
        ax.text(0.708, yy, txt, transform=ax.transAxes, fontsize=12.5 * K, color=col, va='center')

# ---------- e ----------
ax = ax_e
style(ax, (1991, 1999.93), (-1.0, 0.3), range(1991, 2000), np.arange(-0.9, 0.31, 0.1),
      'e)  Lower  Tropospheric  Temperature  Anomaly  (K)', 'Temperature  (K)')
ax.fill(np.concatenate([e_hi_x, e_lo_x[::-1]]), np.concatenate([e_hi_y, e_lo_y[::-1]]),
        color=YELLOW, lw=0, zorder=2)
zero(ax)
line(ax, e_sim_x, e_sim_y, 'black', 1.4, z=5)
line(ax, e_obs_x, e_obs_y, BLUE, 2.0, z=6)
ax.text(0.125, 0.927, 'Simulated 2LT Temperature', transform=ax.transAxes, fontsize=15 * K, va='center')
ax.text(0.125, 0.822, 'Observed MSU 2LT Temperature', transform=ax.transAxes, fontsize=15 * K,
        color=BLUE, va='center')

# ---------- f ----------
ax = ax_f
style(ax, (1991, 1999.93), (-0.5, 2.0), range(1991, 2000), np.arange(-0.4, 1.81, 0.2),
      'f)  Lower  Stratospheric  Temperature  Anomaly  (K)', 'Temperature  (K)', 'Time  (a)')
band(ax, f_sim_x, f_sim_y, f_spread)
zero(ax)
line(ax, f_sim_x, f_sim_y, 'black', 1.4, z=5)
line(ax, f_obs_x, f_obs_y, BLUE, 2.0, z=6)
ax.text(0.272, 0.822, 'Simulated Channel 4 Temperature', transform=ax.transAxes, fontsize=15 * K, va='center')
ax.text(0.272, 0.718, 'Observed MSU 4 Temperature', transform=ax.transAxes, fontsize=15 * K,
        color=BLUE, va='center')

plt.savefig('out.png', dpi=100)
